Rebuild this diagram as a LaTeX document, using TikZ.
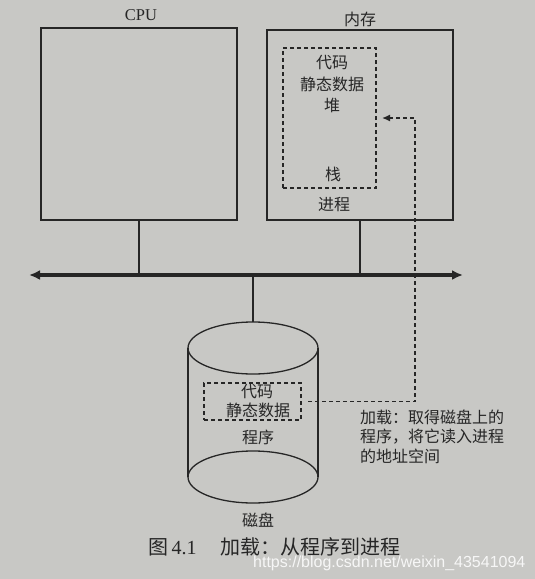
\documentclass[tikz,border=0pt]{standalone}
\usepackage{fontspec}
\setmainfont{Liberation Serif}
\newfontfamily\cjk{Noto Sans CJK SC}
\usetikzlibrary{arrows.meta}
\definecolor{ink}{RGB}{38,38,38}
\definecolor{paper}{RGB}{200,200,197}
\begin{document}
\begin{tikzpicture}[x=1pt,y=-1pt,
  box/.style={draw=ink, line width=1.3pt, inner sep=0pt, outer sep=0pt},
  dbox/.style={draw=ink, line width=1.4pt, dash pattern=on 4pt off 3pt, inner sep=0pt, outer sep=0pt},
  txt/.style={text=ink, inner sep=0pt, font=\cjk\fontsize{16}{19}\selectfont},
  lat/.style={text=ink, inner sep=0pt, font=\fontsize{16.5}{19}\selectfont},
  link/.style={draw=ink, line width=2pt}]
\fill[paper] (0,0) rectangle (535,579);
\useasboundingbox (0,0) rectangle (535,579);

% CPU
\node[box, minimum width=196pt, minimum height=192pt] (cpu) at (139,124) {};
\node[lat] (cpulbl) at (141,15) {CPU};

% memory
\node[box, minimum width=186pt, minimum height=190pt] (mem) at (360,125) {};
\node[txt] (memlbl) at (360,19) {内存};
\node[dbox, minimum width=93pt, minimum height=140pt] (proc) at (329.5,118) {};
\node[txt] (t1) at (332,63) {代码};
\node[txt] (t2) at (332,84) {静态数据};
\node[txt] (t3) at (332,105) {堆};
\node[txt] (t4) at (333,174) {栈};
\node[txt] (t5) at (334,205) {进程};

% bus
\coordinate (busL) at (29,275);
\coordinate (busR) at (463,275);
\draw[draw=ink, line width=4pt, {Latex[length=11pt,width=10pt]}-{Latex[length=11pt,width=10pt]}] (busL) -- (busR);
\draw[link] (cpu.south) -- (cpu.south |- busL);
\draw[link] (mem.south) -- (mem.south |- busL);

% disk
\coordinate (diskTop) at (253,322);
\draw[link] (diskTop) -- (diskTop |- busL);
\draw[draw=ink, line width=1.3pt] (253,348) ellipse [x radius=65, y radius=26];
\draw[draw=ink, line width=1.3pt] (253,477) ellipse [x radius=65, y radius=26];
\draw[draw=ink, line width=1.3pt] (188,348) -- (188,477);
\draw[draw=ink, line width=1.3pt] (318,348) -- (318,477);
\node[dbox, minimum width=97pt, minimum height=37pt] (prog) at (252.5,401.5) {};
\node[txt] (d1) at (257,392) {代码};
\node[txt] (d2) at (258,410) {静态数据};
\node[txt] (d3) at (258,437) {程序};
\node[txt] (disklbl) at (258,520) {磁盘};

% load arrow
\coordinate (turn2) at (415,401.5);
\coordinate (turn1) at (415,118);
\draw[dbox, -{Latex[length=8pt,width=7pt]}, shorten <=7pt, shorten >=6pt]
  (prog.east) -- (turn2) -- (turn1) -- (proc.east);
\node[txt, anchor=west, align=left, font=\cjk\fontsize{16}{19.5}\selectfont] (load) at (360,436.5)
  {加载：取得磁盘上的\\程序，将它读入进程\\的地址空间};

% caption
\node[txt, anchor=west, font=\cjk\fontsize{20}{22}\selectfont] (cap) at (148,547)
  {图\,{\rmfamily 4.1}\hspace{24pt}加载：从程序到进程};

% watermark
\node[anchor=west, inner sep=0pt, text=white, opacity=0.85, font=\fontspec{Liberation Sans}\fontsize{16}{18}\selectfont] (wm) at (253,563)
  {https://blog.csdn.net/weixin\_43541094};
\end{tikzpicture}
\end{document}
